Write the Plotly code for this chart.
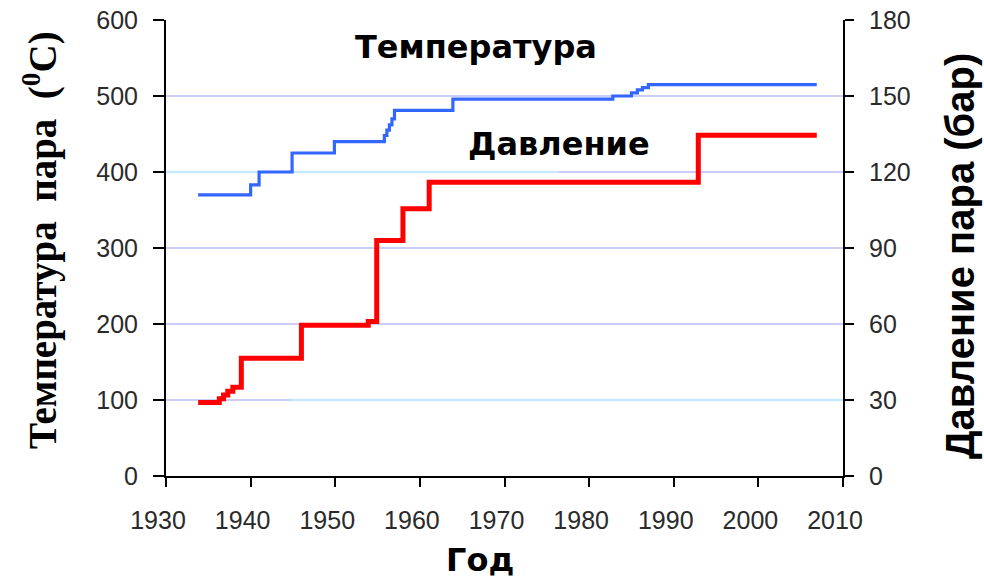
import plotly.graph_objects as go

# Steam temperature (deg C) by year
temp_years = [1933.8, 1940.0, 1941.0, 1944.9, 1949.9, 1955.8, 1956.1, 1956.4, 1956.7, 1957.0,
              1963.9, 1982.8, 1985.0, 1985.7, 1986.3, 1987.0, 2006.9]
temp_values = [370, 383, 400, 425, 440, 448, 455, 462, 470, 481,
               496, 500, 504, 508, 511, 515, 515]

# Steam pressure (bar) by year
pres_years = [1933.8, 1936.3, 1936.8, 1937.3, 1937.9, 1938.9, 1946.0, 1953.9, 1954.9,
              1958.0, 1961.1, 1992.9, 2006.9]
pres_values = [29, 30.5, 32, 33.5, 35, 46.5, 59.5, 61, 93,
               105.5, 116, 134.5, 134.5]

x_ticks = list(range(1930, 2011, 10))
temp_ticks = list(range(0, 601, 100))
pres_ticks = list(range(0, 181, 30))

# Light-blue overlay segments on two of the grid lines: (value, from year, to year)
cyan_grid = [(400, 1930, 1976.4), (100, 1944.6, 2010)]

tick_font = dict(family="Liberation Sans, Arial, sans-serif", size=25, color="#2a2a2a")

fig = go.Figure()

fig.add_trace(go.Scatter(
    x=temp_years, y=temp_values, mode="lines", line_shape="hv",
    line=dict(color="#3366ff", width=3.2), yaxis="y", showlegend=False,
))
fig.add_trace(go.Scatter(
    x=pres_years, y=pres_values, mode="lines", line_shape="hv",
    line=dict(color="#ff0000", width=5), yaxis="y2", showlegend=False,
))

for val, x0, x1 in cyan_grid:
    fig.add_shape(type="line", xref="x", yref="y", x0=x0, x1=x1, y0=val, y1=val,
                  line=dict(color="#c6e9fd", width=2.5), layer="between")

fig.update_layout(
    width=984, height=585,
    margin=dict(l=166, r=141, t=20, b=109, autoexpand=False),
    paper_bgcolor="white", plot_bgcolor="white",
    xaxis=dict(
        range=[1930, 2010], tickvals=x_ticks, ticks="outside", ticklen=9,
        tickcolor="black", tickwidth=2, showline=True, linecolor="black", linewidth=2,
        showgrid=False, zeroline=False, tickfont=tick_font, ticklabelshift=-8,
        ticklabelstandoff=12, automargin=False,
    ),
    yaxis=dict(
        range=[0, 600], tickvals=temp_ticks, ticks="outside", ticklen=11,
        tickcolor="black", tickwidth=2, showline=True, linecolor="black", linewidth=2,
        showgrid=True, gridcolor="#ccccf8", gridwidth=2, zeroline=False,
        tickfont=tick_font, ticklabelstandoff=10, automargin=False,
    ),
    yaxis2=dict(
        range=[0, 180], tickvals=pres_ticks, ticks="outside", ticklen=9,
        tickcolor="black", tickwidth=2, showline=True, linecolor="black", linewidth=2,
        showgrid=False, zeroline=False, overlaying="y", side="right",
        tickfont=tick_font, ticklabelstandoff=10, automargin=False,
    ),
    annotations=[
        dict(text="<b>Температура</b>", xref="paper", yref="paper",
             x=(476 - 166) / 677, y=(476 - 47) / 456, xanchor="center", yanchor="middle",
             showarrow=False, font=dict(family="DejaVu Sans", size=32, color="black")),
        dict(text="<b>Давление</b>", xref="paper", yref="paper",
             x=(559 - 166) / 677, y=(476 - 144) / 456, xanchor="center", yanchor="middle",
             showarrow=False, font=dict(family="DejaVu Sans", size=32, color="black")),
        dict(text="<b>Год</b>", xref="paper", yref="paper",
             x=(480 - 166) / 677, y=(476 - 560) / 456, xanchor="center", yanchor="middle",
             showarrow=False, font=dict(family="DejaVu Sans", size=32, color="black")),
        dict(text="<b>Температура\u00a0\u00a0пара\u00a0\u00a0(<sup>0</sup>C)</b>",
             xref="paper", yref="paper", textangle=-90,
             x=(41 - 166) / 677, y=(476 - 240) / 456, xanchor="center", yanchor="middle",
             showarrow=False,
             font=dict(family="Liberation Serif, Times New Roman, serif", size=39, color="black")),
        dict(text="<b>Давление пара (бар)</b>", xref="paper", yref="paper", textangle=-90,
             x=(960 - 166) / 677, y=(476 - 256) / 456, xanchor="center", yanchor="middle",
             showarrow=False,
             font=dict(family="Liberation Sans, Arial, sans-serif", size=40, color="black")),
    ],
)

fig.write_html("out.html")
